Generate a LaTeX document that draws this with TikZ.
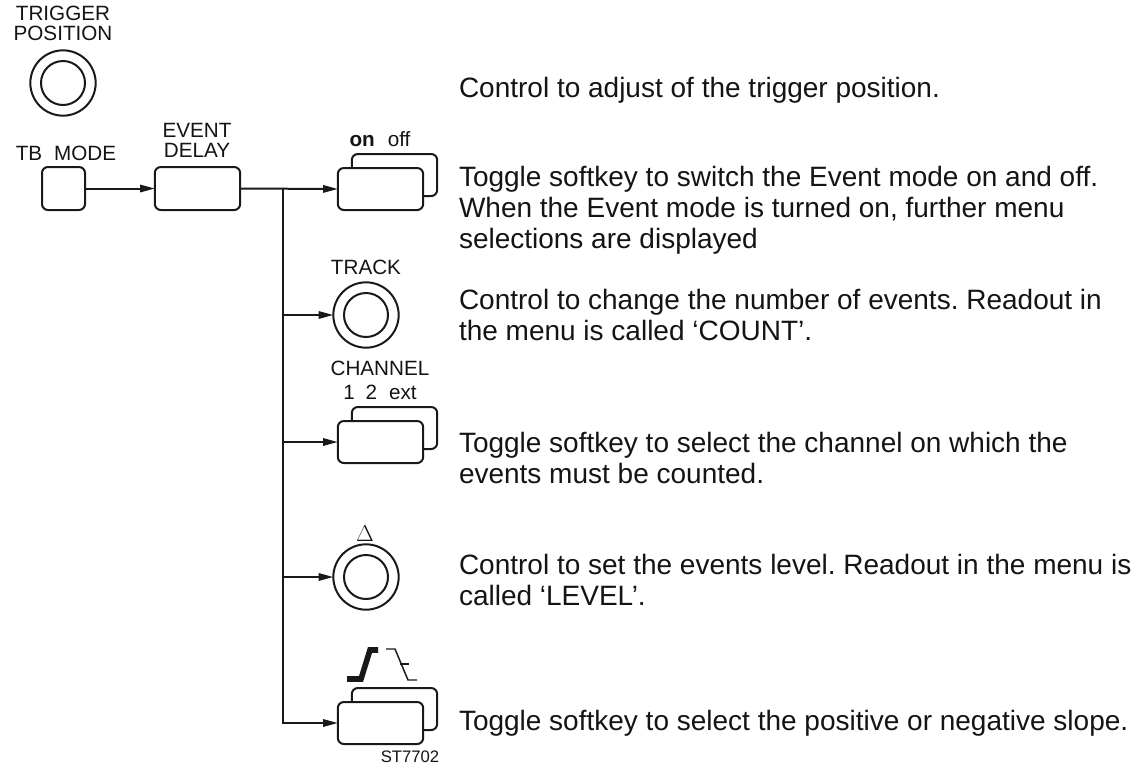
\documentclass[tikz,border=0pt]{standalone}
\usepackage{fontspec}
\setmainfont{Liberation Sans}
\usetikzlibrary{arrows.meta}
\frenchspacing

\definecolor{pntext}{RGB}{20,20,20}
\definecolor{pnline}{RGB}{25,25,25}

\begin{document}
\begin{tikzpicture}[
  x=0.75pt,
  y=-0.75pt,
  every node/.style={inner sep=0pt, outer sep=0pt},
  pnLabel/.style={font=\fontsize{15.5}{15}\selectfont, text=pntext, align=center},
  pnSmall/.style={font=\fontsize{12.5}{13}\selectfont, text=pntext},
  pnBody/.style={font=\fontsize{21}{23}\selectfont, text=pntext, anchor=base west},
  pnMain/.style={draw=pnline, line width=1.5pt, -{Triangle[length=11pt,width=5.5pt]}},
  pnConn/.style={draw=pnline, line width=1.5pt},
  pnKey/.style={draw=pnline, fill=white, line width=1.5pt, rounded corners=4.5pt,
    minimum width=64pt, minimum height=31.5pt},
  pnSquare/.style={pnKey, minimum width=32.25pt, minimum height=32.25pt},
  pnKnob/.style={draw=pnline, line width=1.5pt, circle, minimum size=49pt},
  pnInner/.style={draw=pnline, line width=1.5pt}
]

  \path[use as bounding box, fill=white] (0,0) rectangle (1143,772);

  % Front panel controls
  \node[pnLabel] (trigLbl) at (63,23) {TRIGGER\\POSITION};
  \node[pnKnob] (trigKnob) at (63,83) {};
  \draw[pnInner] (trigKnob.center) circle[radius=16.5pt];

  \node[pnLabel] (tbLbl) at (66,153) {TB\hspace{9pt}MODE};
  \node[pnSquare] (tbKey) at (63.5,188.5) {};

  \node[pnLabel] (edLbl) at (197,140) {EVENT\\DELAY};
  \node[pnKey, minimum height=32.25pt] (edKey) at (197.5,188.5) {};

  % Event delay menu
  \node[pnLabel] (onLbl) at (380,139) {\textbf{on}\hspace{9.75pt}off};
  \node[pnKey] (onBack) at (394.5,175) {};
  \node[pnKey] (onKey) at (380.5,189) {};

  \node[pnLabel] (trackLbl) at (366,267) {TRACK};
  \node[pnKnob] (trackKnob) at (366,315) {};
  \draw[pnInner] (trackKnob.center) circle[radius=16.5pt];

  \node[pnLabel, font=\fontsize{15.5}{18}\selectfont] (chLbl) at (380,380)
    {CHANNEL\\1\hspace{8pt}2\hspace{9pt}ext};
  \node[pnKey] (chBack) at (394.5,428) {};
  \node[pnKey] (chKey) at (380.5,442) {};

  \node[pnLabel, font=\fontsize{17}{17}\selectfont] (lvlLbl) at (365,534) {$\Delta$};
  \node[pnKnob] (lvlKnob) at (366,577) {};
  \draw[pnInner] (lvlKnob.center) circle[radius=16.5pt];

  \draw[draw=pnline, line width=4.2pt, miter limit=4] (347,679) -- (361,679) -- (370,650) -- (378,650);
  \draw[draw=pnline, line width=1.1pt] (386,649) -- (395,649) -- (408,680) -- (417,680);
  \draw[draw=pnline, line width=1.1pt] (400,664) -- (409,664);
  \node[pnKey] (slBack) at (394.5,709) {};
  \node[pnKey] (slKey) at (380.5,723) {};

  \node[pnSmall] (code) at (410,757) {ST7702};

  % Connectors
  \coordinate (bus) at (283,189);
  \draw[pnMain] (tbKey.east) -- (edKey.west);
  \draw[pnMain] (edKey.east) -- (onKey.west);
  \draw[pnMain] (bus) |- (slKey.west);
  \draw[pnMain] (bus |- trackKnob) -- (trackKnob.west);
  \draw[pnMain] (bus |- chKey) -- (chKey.west);
  \draw[pnMain] (bus |- lvlKnob) -- (lvlKnob.west);

  % Explanations
  \node[pnBody] (txtTrig) at (459,97) {Control to adjust of the trigger position.};

  \node[pnBody] (txtOnA) at (459,186) {Toggle softkey to switch the Event mode on and off.};
  \node[pnBody] (txtOnB) at (459,217) {When the Event mode is turned on, further menu};
  \node[pnBody] (txtOnC) at (459,248) {selections are displayed};

  \node[pnBody] (txtTrackA) at (459,309) {Control to change the number of events. Readout in};
  \node[pnBody] (txtTrackB) at (459,340) {the menu is called ‘COUNT’.};

  \node[pnBody] (txtChA) at (459,452) {Toggle softkey to select the channel on which the};
  \node[pnBody] (txtChB) at (459,483) {events must be counted.};

  \node[pnBody] (txtLvlA) at (459,574) {Control to set the events level. Readout in the menu is};
  \node[pnBody] (txtLvlB) at (459,605) {called ‘LEVEL’.};

  \node[pnBody] (txtSlope) at (459,730) {Toggle softkey to select the positive or negative slope.};

\end{tikzpicture}
\end{document}
